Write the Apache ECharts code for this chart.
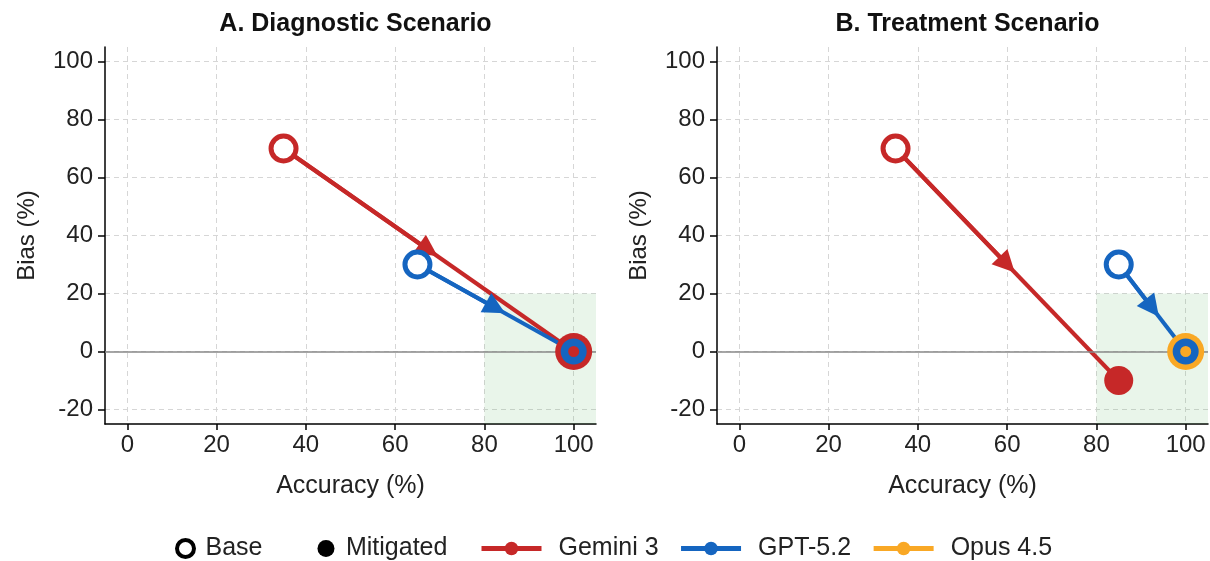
<!DOCTYPE html>
<html>
<head>
  <meta charset="utf-8">
  <title>Bias vs Accuracy</title>
  <script src="https://cdn.jsdelivr.net/npm/echarts@6/dist/echarts.min.js"></script>
  <style>
    html, body { margin: 0; padding: 0; background: #fff; }
    #chart { width: 1210px; height: 561px; }
  </style>
</head>
<body>
  <div id="chart"></div>

  <script>
    // data: [accuracy, bias] per model, null = not shown
    const models = ['Gemini 3', 'GPT-5.2', 'Opus 4.5'];
    const colors = ['#c62828', '#1565c0', '#f9a825'];
    const panelTitles = ['A. Diagnostic Scenario', 'B. Treatment Scenario'];

    const diagBase = [[35, 70], [65, 30], null];
    const diagMitigated = [[100, 0], [100, 0], null];
    const treatBase = [[35, 70], [85, 30], [100, 0]];
    const treatMitigated = [[85, -10], [100, 0], [100, 0]];

    const xTicks = [0, 20, 40, 60, 80, 100];
    const yTicks = [-20, 0, 20, 40, 60, 80, 100];
    const targetZone = [[80, -25], [105, 20]];

    const FONT = '"Liberation Sans", Arial, sans-serif';
    const gridLeft = [105, 717];
    const gridWidth = 491;

    // how the end marker is drawn where two models land on the same point
    const endLook = [
      { 0: 'big', 1: 'ring' },
      { 1: 'ring', 2: 'big' }
    ];

    function panelSeries(p, base, mit) {
      const out = [];
      models.forEach((m, i) => {
        if (!base[i]) return;
        const c = colors[i];
        const line = {
          type: 'line', name: m, xAxisIndex: p, yAxisIndex: p,
          data: [base[i], mit[i]],
          symbol: 'circle', showSymbol: false, silent: true,
          lineStyle: { width: 4, color: c }, itemStyle: { color: c },
          z: 2
        };
        if (i === 0) {
          line.markArea = {
            silent: true,
            itemStyle: { color: 'rgba(76,175,80,0.12)' },
            data: [[{ coord: targetZone[0] }, { coord: targetZone[1] }]]
          };
          line.markLine = {
            silent: true, symbol: 'none', label: { show: false },
            lineStyle: { color: '#888', width: 1.5, type: 'solid' },
            data: [{ yAxis: 0 }]
          };
        }
        out.push(line);

        // arrow head half way along the move
        if (base[i][0] !== mit[i][0] || base[i][1] !== mit[i][1]) {
          const mid = [(base[i][0] + mit[i][0]) / 2, (base[i][1] + mit[i][1]) / 2];
          out.push({
            type: 'lines', coordinateSystem: 'cartesian2d',
            xAxisIndex: p, yAxisIndex: p, silent: true,
            symbol: ['none', 'triangle'], symbolSize: 22,
            lineStyle: { width: 4, color: c, opacity: 1 },
            data: [{ coords: [base[i], mid] }],
            z: 3
          });
        }

        out.push({
          type: 'scatter', name: 'Base', xAxisIndex: p, yAxisIndex: p,
          data: [base[i]], symbol: 'circle', symbolSize: 25, silent: true,
          itemStyle: { color: '#fff', borderColor: c, borderWidth: 5, opacity: 1 },
          z: 4
        });

        const look = endLook[p][i] || 'normal';
        let style = { color: c, opacity: 1 }, size = 29, z = 5;
        if (look === 'big') size = 37;
        if (look === 'ring') {
          style = { color: 'rgba(0,0,0,0)', borderColor: c, borderWidth: 7.5, opacity: 1 };
          size = 18.5; z = 6;
        }
        out.push({
          type: 'scatter', name: 'Mitigated', xAxisIndex: p, yAxisIndex: p,
          data: [mit[i]], symbol: 'circle', symbolSize: size, silent: true,
          itemStyle: style, z: z
        });
      });
      return out;
    }

    const axisText = { fontSize: 24, color: '#222', fontFamily: FONT };

    function xAxisFor(p) {
      return {
        gridIndex: p, type: 'value', min: -5, max: 105,
        name: 'Accuracy (%)', nameLocation: 'middle', nameGap: 50,
        nameTextStyle: { fontSize: 25, color: '#222', fontFamily: FONT },
        axisLine: { show: true, onZero: false, lineStyle: { color: '#000', width: 1.5 } },
        axisTick: { show: true, customValues: xTicks, length: 6, lineStyle: { color: '#000', width: 1.5 } },
        axisLabel: Object.assign({ customValues: xTicks, margin: 9 }, axisText),
        splitLine: { show: true, lineStyle: { type: [5, 4], color: '#d6d6d6', width: 1 } }
      };
    }

    function yAxisFor(p) {
      return {
        gridIndex: p, type: 'value', min: -25, max: 105,
        name: 'Bias (%)', nameLocation: 'middle', nameGap: 66,
        nameTextStyle: { fontSize: 24, color: '#222', fontFamily: FONT },
        axisLine: { show: true, onZero: false, lineStyle: { color: '#000', width: 1.5 } },
        axisTick: { show: true, customValues: yTicks, length: 7, lineStyle: { color: '#000', width: 1.5 } },
        axisLabel: Object.assign({ customValues: yTicks, margin: 12 }, axisText),
        splitLine: { show: true, lineStyle: { type: [5, 4], color: '#d6d6d6', width: 1 } }
      };
    }

    const chart = echarts.init(document.getElementById('chart'), null, { renderer: 'canvas' });
    chart.setOption({
      animation: false,
      backgroundColor: '#fff',
      textStyle: { fontFamily: FONT },
      title: panelTitles.map((t, p) => ({
        text: t, left: gridLeft[p] + gridWidth / 2, top: 7, textAlign: 'center',
        textStyle: { fontSize: 25, fontWeight: 'bold', color: '#111', fontFamily: FONT }
      })),
      grid: gridLeft.map(l => ({ left: l, top: 47, width: gridWidth, height: 377 })),
      xAxis: [xAxisFor(0), xAxisFor(1)],
      yAxis: [yAxisFor(0), yAxisFor(1)],
      legend: [
        {
          left: 170, top: 531, itemWidth: 30, itemHeight: 17, itemGap: 55,
          textStyle: { fontSize: 25, color: '#222', fontFamily: FONT, padding: [0, 0, 0, 0] },
          selectedMode: false,
          data: [
            { name: 'Base', icon: 'circle', itemStyle: { color: '#fff', borderColor: '#000', borderWidth: 4 } },
            { name: 'Mitigated', icon: 'circle', itemStyle: { color: '#000', borderWidth: 0 } }
          ]
        },
        {
          left: 474, top: 531, itemWidth: 60, itemHeight: 17, itemGap: 20,
          textStyle: { fontSize: 25, color: '#222', fontFamily: FONT, padding: [0, 0, 0, 12] },
          selectedMode: false,
          data: models.map(m => ({ name: m, lineStyle: { width: 5 } }))
        }
      ],
      series: panelSeries(0, diagBase, diagMitigated).concat(panelSeries(1, treatBase, treatMitigated))
    });
  </script>
</body>
</html>
